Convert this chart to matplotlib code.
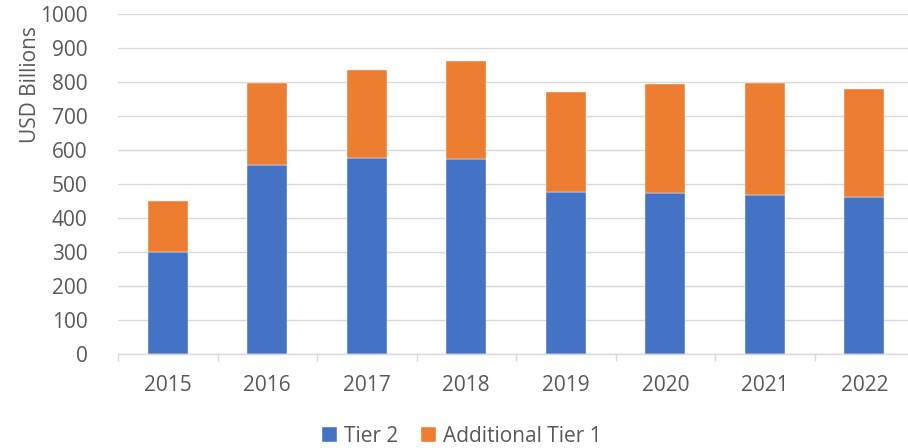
import matplotlib
matplotlib.use("Agg")
import matplotlib.pyplot as plt
import numpy as np

years = ['2015', '2016', '2017', '2018', '2019', '2020', '2021', '2022']
tier2 = [300, 556, 577, 574, 477, 474, 467, 462]
at1 = [150, 240, 257, 288, 293, 320, 328, 317]

blue = '#4472C4'
orange = '#ED7D31'
grid_col = '#D9D9D9'
text_col = '#595959'

plt.rcParams['font.family'] = ['Open Sans', 'DejaVu Sans']
fs = 15

fig = plt.figure(figsize=(9.08, 4.48), dpi=100)
ax = fig.add_axes([118 / 908, 1 - 353.7 / 448, 796 / 908, 340 / 448])

x = np.arange(len(years))
ax.bar(x, tier2, width=0.4, color=blue, label='Tier 2', zorder=3,
       edgecolor='white', linewidth=0.3)
ax.bar(x, at1, width=0.4, bottom=tier2, color=orange, label='Additional Tier 1',
       zorder=3, edgecolor='white', linewidth=0.3)

ax.set_xlim(-0.5, 7.5)
ax.set_ylim(0, 1000)
ax.set_yticks(range(0, 1001, 100))
ax.yaxis.grid(True, color=grid_col, linewidth=1.0)
ax.set_axisbelow(True)

for side in ['top', 'right', 'left']:
    ax.spines[side].set_visible(False)
ax.spines['bottom'].set_color(grid_col)
ax.spines['bottom'].set_linewidth(1.0)
ax.spines['bottom'].set_zorder(4)

ax.set_xticks(x)
ax.set_xticklabels(years)
ax.set_xticks(np.arange(-0.5, 8, 1), minor=True)
ax.tick_params(axis='x', which='major', length=0, pad=15, labelsize=fs, labelcolor=text_col)
ax.tick_params(axis='x', which='minor', length=5, width=1.0, color=grid_col)
ax.tick_params(axis='y', length=0, pad=22, labelsize=fs, labelcolor=text_col)

fig.text(30 / 908, 1 - 85 / 448, 'USD Billions', rotation=90, ha='center', va='center',
         fontsize=fs, color=text_col)

leg = fig.legend(loc='center', bbox_to_anchor=(462 / 908, 1 - 436 / 448), ncol=2,
                 frameon=False, fontsize=fs, handlelength=0.7, handleheight=0.7,
                 handletextpad=0.35, columnspacing=1.1)
for t in leg.get_texts():
    t.set_color(text_col)

fig.savefig('out.png', dpi=100)
